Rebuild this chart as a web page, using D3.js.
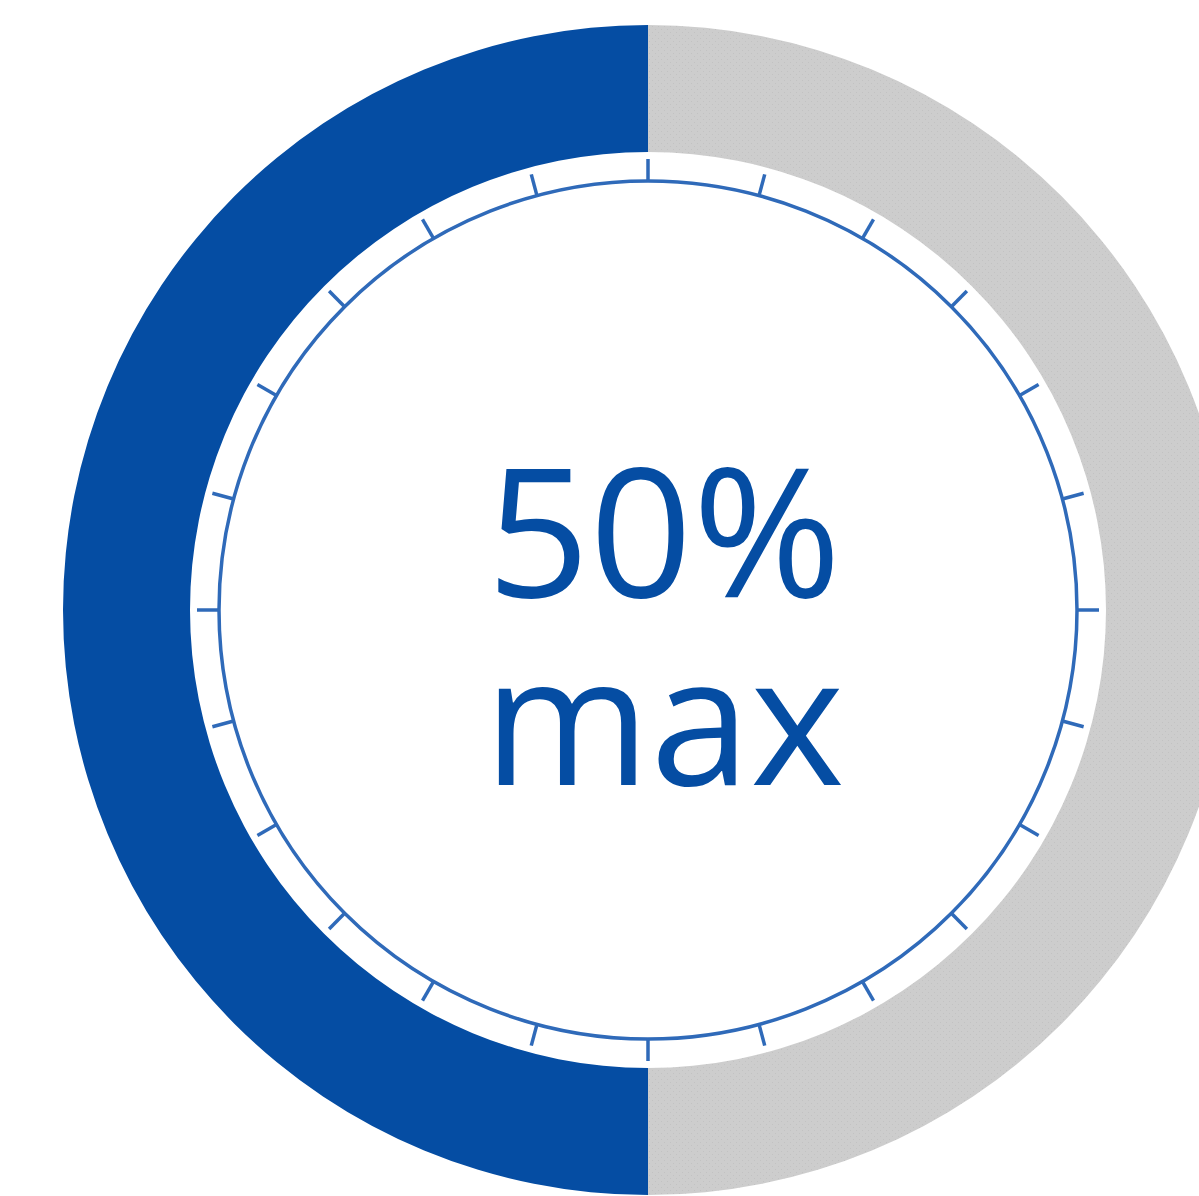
<!DOCTYPE html>
<html>
<head>
<meta charset="utf-8">
<script src="https://cdn.jsdelivr.net/npm/d3@7"></script>
<style>
  html, body { margin: 0; padding: 0; background: #fff; overflow: hidden; }
</style>
</head>
<body>
<svg id="chart"></svg>
<script>
const width = 1199;
const height = 1196;
const cx = 648;
const cy = 610;

// gauge data
const labels = ['value', 'rest'];
const values = [50, 50];
const maxValue = 100;
const tickCount = 24;
const textLines = ['50%', 'max'];

const colors = d3.scaleOrdinal()
  .domain(labels)
  .range(['#054da3', 'url(#greyDots)']);

const svg = d3.select('#chart')
  .attr('width', width)
  .attr('height', height);

// grey fill has a faint dotted texture
const pat = svg.append('defs')
  .append('pattern')
  .attr('id', 'greyDots')
  .attr('patternUnits', 'userSpaceOnUse')
  .attr('width', 6)
  .attr('height', 6);
pat.append('rect').attr('width', 6).attr('height', 6).attr('fill', '#cdcdcd');
pat.append('rect').attr('x', 1).attr('y', 1).attr('width', 1).attr('height', 1).attr('fill', '#c2c2c2');
pat.append('rect').attr('x', 4).attr('y', 4).attr('width', 1).attr('height', 1).attr('fill', '#c2c2c2');

const g = svg.append('g')
  .attr('transform', `translate(${cx}, ${cy})`);

const pie = d3.pie()
  .sort(null)
  .startAngle(Math.PI)
  .endAngle(3 * Math.PI);

const arc = d3.arc()
  .innerRadius(458)
  .outerRadius(585);

g.selectAll('path.slice')
  .data(pie(values))
  .enter()
  .append('path')
  .attr('class', 'slice')
  .attr('d', arc)
  .attr('fill', (d, i) => colors(labels[i]));

// dial circle with ticks
const dialR = 429;
const tickR = 451;
const lineColor = '#2f6ab9';

g.append('circle')
  .attr('r', dialR)
  .attr('fill', 'none')
  .attr('stroke', lineColor)
  .attr('stroke-width', 3.5);

const tickAngle = d3.scaleLinear()
  .domain([0, tickCount])
  .range([0, 2 * Math.PI]);

g.selectAll('line.tick')
  .data(d3.range(tickCount))
  .enter()
  .append('line')
  .attr('class', 'tick')
  .attr('x1', d => dialR * Math.sin(tickAngle(d)))
  .attr('y1', d => -dialR * Math.cos(tickAngle(d)))
  .attr('x2', d => tickR * Math.sin(tickAngle(d)))
  .attr('y2', d => -tickR * Math.cos(tickAngle(d)))
  .attr('stroke', lineColor)
  .attr('stroke-width', 3.5);

// centre label
g.selectAll('text.label')
  .data(textLines)
  .enter()
  .append('text')
  .attr('class', 'label')
  .attr('x', 16)
  .attr('y', (d, i) => -13 + i * 188)
  .attr('text-anchor', 'middle')
  .attr('font-family', '"Open Sans", "Noto Sans", sans-serif')
  .attr('font-size', 180)
  .attr('fill', '#054da3')
  .text(d => d);
</script>
</body>
</html>
